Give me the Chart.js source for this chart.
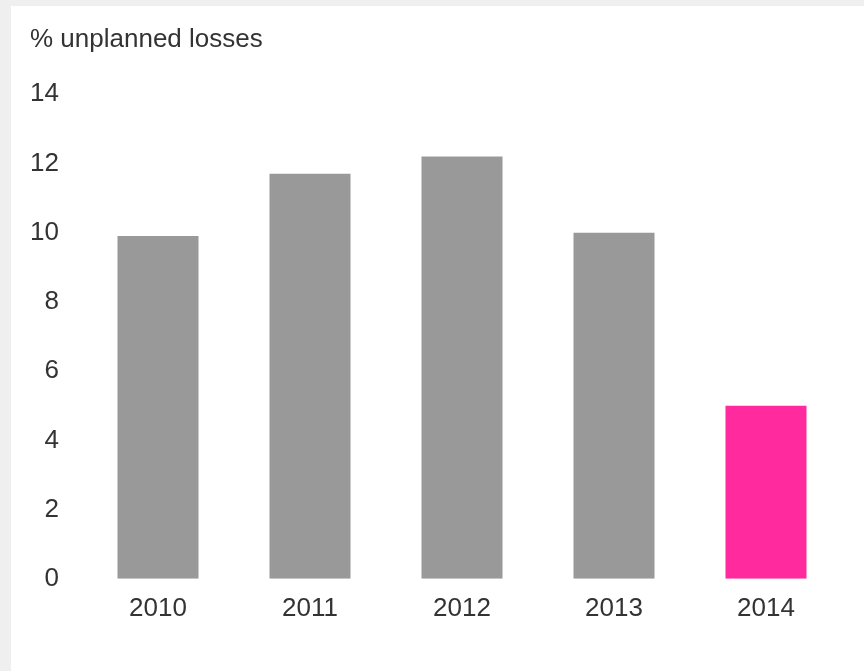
<!DOCTYPE html>
<html>
<head>
<meta charset="utf-8">
<script src="https://cdn.jsdelivr.net/npm/chart.js@4"></script>
<style>
  html, body { margin: 0; padding: 0; background: #efefef; }
  #panel { position: absolute; left: 11px; top: 6px; width: 853px; height: 665px; background: #fff; }
  canvas { display: block; }
</style>
</head>
<body>
<div id="panel"><canvas id="lossChart" width="853" height="665"></canvas></div>
<script>
const years = ["2010", "2011", "2012", "2013", "2014"];
const losses = [9.9, 11.7, 12.2, 10.0, 5.0];
const barColors = ["#999999", "#999999", "#999999", "#999999", "#ff2a9e"];

const font = { family: "'Liberation Sans', Arial, sans-serif", size: 26 };

new Chart(document.getElementById("lossChart").getContext("2d"), {
    type: "bar",
    data: {
        labels: years,
        datasets: [{
            data: losses,
            backgroundColor: barColors,
            borderWidth: 0,
            barPercentage: 0.533,
            categoryPercentage: 1,
        }],
    },
    options: {
        responsive: false,
        animation: false,
        layout: { padding: { left: 19, right: 22, top: 0, bottom: 33 } },
        plugins: {
            legend: { display: false },
            tooltip: { enabled: false },
            title: {
                display: true,
                text: "% unplanned losses",
                align: "start",
                color: "#333333",
                font: { ...font, weight: "normal" },
                padding: { top: 18, bottom: 39 },
            },
        },
        scales: {
            x: {
                grid: { display: false, drawTicks: false },
                border: { display: false },
                ticks: { color: "#333333", font: font, padding: 14 },
            },
            y: {
                min: 0,
                max: 14,
                grid: { display: false, drawTicks: false },
                border: { display: false },
                ticks: { stepSize: 2, color: "#333333", font: font, padding: 23 },
                // keep the value axis narrow so the plot starts close to the labels
                afterFit(scale) { scale.width = 52; },
            },
        },
    },
});
</script>
</body>
</html>
